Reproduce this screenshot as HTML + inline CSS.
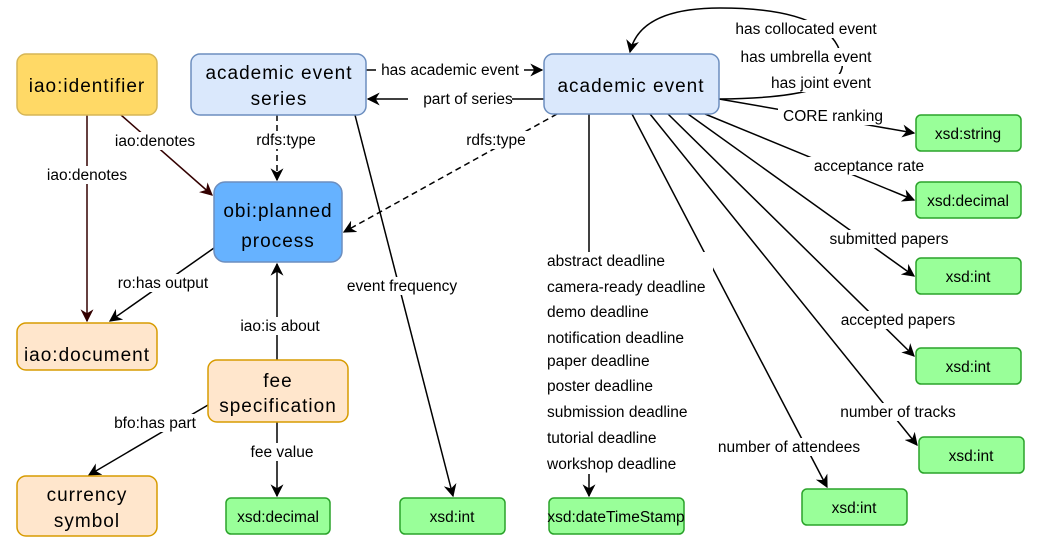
<!DOCTYPE html>
<html><head><style>body{margin:0;background:#fff}svg{display:block}text{font-family:"Liberation Sans",sans-serif}</style></head>
<body>
<svg width="1047" height="549" viewBox="0 0 1047 549" xmlns="http://www.w3.org/2000/svg">
<defs>
<marker id="a" viewBox="0 0 10 10" refX="9" refY="5" markerWidth="13" markerHeight="13" orient="auto" markerUnits="userSpaceOnUse"><path d="M0,0 L10,5 L0,10 L3,5 z" fill="#000"/></marker>
<marker id="r" viewBox="0 0 10 10" refX="9" refY="5" markerWidth="13" markerHeight="13" orient="auto" markerUnits="userSpaceOnUse"><path d="M0,0 L10,5 L0,10 L3,5 z" fill="#330000"/></marker>
</defs>
<g stroke="#000" stroke-width="1.5" fill="none" marker-end="url(#a)">
<path d="M366,70 L542,70"/>
<path d="M544,99 L368,99"/>
<path d="M719,99 Q850,98 842,60 Q835,8 720,8 Q640,8 630,52"/>
<path d="M719,99 L914,133"/>
<path d="M705,114 L914,200"/>
<path d="M688,114 L914,276"/>
<path d="M668,114 L914,356"/>
<path d="M650,114 L917,445"/>
<path d="M632,114 L827,487"/>
<path d="M589,114 L589,496"/>
<path d="M355,115 L453,496"/>
<path d="M214,248 L110,321"/>
<path d="M277,360 L277,264"/>
<path d="M208,405 L89,475"/>
<path d="M277,422 L277,496"/>
<path d="M557,114 L344,232" stroke-dasharray="6,4"/>
<path d="M277,115 L277,180" stroke-dasharray="6,4"/>
</g>
<g stroke="#330000" stroke-width="1.5" fill="none" marker-end="url(#r)">
<path d="M121,115 L212,195"/>
<path d="M87,115 L87,321"/>
</g>
<g font-size="15.5" text-anchor="middle" fill="#000">
<g fill="#fff" stroke="none">
<rect x="376" y="61" width="148" height="18"/><rect x="408" y="90" width="104" height="18"/>
<rect x="732" y="20" width="144" height="18"/><rect x="732" y="48" width="144" height="18"/><rect x="764" y="74" width="112" height="18"/>
<rect x="778" y="107" width="110" height="18"/><rect x="808" y="157" width="122" height="18"/><rect x="822" y="230" width="132" height="18"/>
<rect x="834" y="311" width="128" height="18"/><rect x="834" y="403" width="128" height="18"/><rect x="712" y="438" width="154" height="18"/>
<rect x="545" y="252" width="168" height="222"/>
<rect x="461" y="131" width="70" height="18"/><rect x="251" y="131" width="70" height="18"/>
<rect x="342" y="277" width="120" height="18"/><rect x="111" y="132" width="88" height="18"/><rect x="43" y="166" width="88" height="18"/>
<rect x="112" y="274" width="100" height="18"/><rect x="236" y="317" width="90" height="18"/><rect x="108" y="414" width="96" height="18"/><rect x="246" y="443" width="72" height="18"/>
</g>
<text x="450" y="75">has academic event</text>
<text x="468" y="104">part of series</text>
<text x="806" y="34">has collocated event</text>
<text x="806" y="62">has umbrella event</text>
<text x="821" y="88">has joint event</text>
<text x="833" y="121">CORE ranking</text>
<text x="869" y="171">acceptance rate</text>
<text x="889" y="244">submitted papers</text>
<text x="898" y="325">accepted papers</text>
<text x="898" y="417">number of tracks</text>
<text x="789" y="452">number of attendees</text>
<g text-anchor="start">
<text x="547" y="266">abstract deadline</text>
<text x="547" y="292">camera-ready deadline</text>
<text x="547" y="317">demo deadline</text>
<text x="547" y="343">notification deadline</text>
<text x="547" y="366">paper deadline</text>
<text x="547" y="391">poster deadline</text>
<text x="547" y="417">submission deadline</text>
<text x="547" y="443">tutorial deadline</text>
<text x="547" y="469">workshop deadline</text>
</g>
<text x="496" y="145">rdfs:type</text>
<text x="286" y="145">rdfs:type</text>
<text x="402" y="291">event frequency</text>
<text x="155" y="146">iao:denotes</text>
<text x="87" y="180">iao:denotes</text>
<text x="163" y="288">ro:has output</text>
<text x="280" y="331">iao:is about</text>
<text x="155" y="428">bfo:has part</text>
<text x="282" y="457">fee value</text>
</g>
<g stroke-width="1.5">
<rect x="17" y="54" width="140" height="61" rx="9" fill="#ffd966" stroke="#d6b656"/>
<rect x="191" y="54" width="175" height="61" rx="9" fill="#dae8fc" stroke="#6c8ebf"/>
<rect x="544" y="54" width="175" height="60" rx="9" fill="#dae8fc" stroke="#6c8ebf"/>
<rect x="214" y="182" width="128" height="80" rx="11" fill="#66b2ff" stroke="#6c8ebf"/>
<rect x="17" y="323" width="140" height="47" rx="9" fill="#ffe6cc" stroke="#d79b00"/>
<rect x="208" y="360" width="140" height="62" rx="9" fill="#ffe6cc" stroke="#d79b00"/>
<rect x="17" y="476" width="140" height="60" rx="9" fill="#ffe6cc" stroke="#d79b00"/>
<g fill="#99ff99" stroke="#2aa32a">
<rect x="226" y="498" width="104" height="36" rx="5"/>
<rect x="400" y="498" width="105" height="36" rx="5"/>
<rect x="549" y="498" width="135" height="36" rx="5"/>
<rect x="802" y="489" width="105" height="36" rx="5"/>
<rect x="919" y="437" width="105" height="36" rx="5"/>
<rect x="916" y="348" width="105" height="36" rx="5"/>
<rect x="916" y="258" width="105" height="36" rx="5"/>
<rect x="916" y="182" width="105" height="36" rx="5"/>
<rect x="916" y="115" width="105" height="36" rx="5"/>
</g>
</g>
<g font-size="19" text-anchor="middle" fill="#000" letter-spacing="1">
<text x="87" y="92">iao:identifier</text>
<text x="279" y="79">academic event</text>
<text x="279" y="105">series</text>
<text x="631" y="92">academic event</text>
<text x="278" y="217">obi:planned</text>
<text x="278" y="247">process</text>
<text x="87" y="361">iao:document</text>
<text x="278" y="387">fee</text>
<text x="278" y="412">specification</text>
<text x="87" y="501">currency</text>
<text x="87" y="527">symbol</text>
</g>
<g font-size="15.5" text-anchor="middle" fill="#000">
<text x="278" y="522">xsd:decimal</text>
<text x="452" y="522">xsd:int</text>
<text x="616" y="522">xsd:dateTimeStamp</text>
<text x="854" y="513">xsd:int</text>
<text x="971" y="461">xsd:int</text>
<text x="968" y="372">xsd:int</text>
<text x="968" y="282">xsd:int</text>
<text x="968" y="206">xsd:decimal</text>
<text x="968" y="139">xsd:string</text>
</g>
</svg>
</body></html>
